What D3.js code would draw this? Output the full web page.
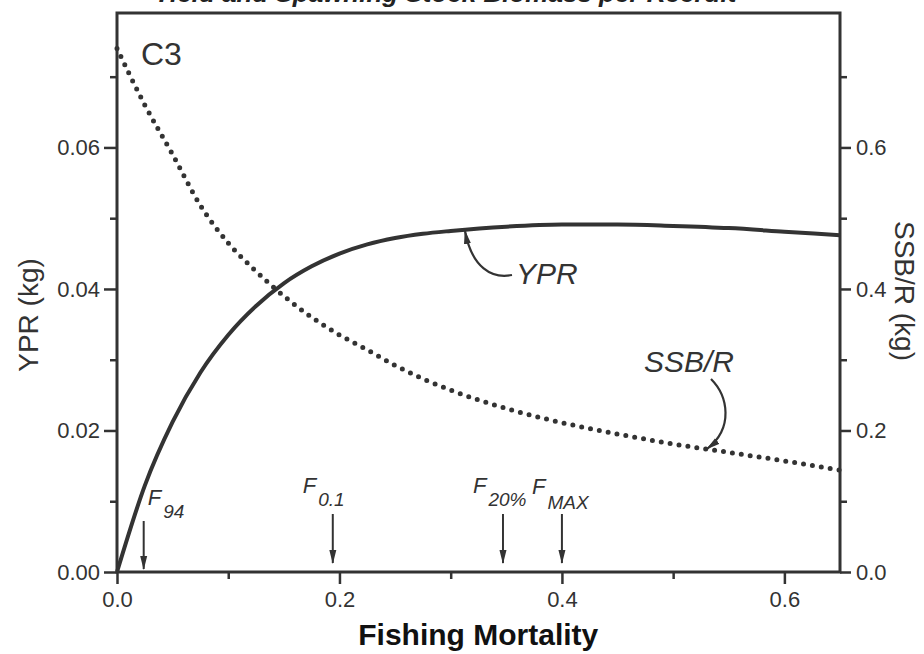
<!DOCTYPE html>
<html>
<head>
<meta charset="utf-8">
<script src="https://cdn.jsdelivr.net/npm/d3@7"></script>
<style>
  body { margin: 0; background: #fff; }
  svg { display: block; }
  text { font-family: "Liberation Sans", Arial, sans-serif; fill: #333; }
</style>
</head>
<body>
<svg id="chart" width="924" height="654"></svg>
<script>
// Fishing mortality grid and the two per-recruit curves
const fishingMortality = [0, 0.025, 0.05, 0.075, 0.1, 0.125, 0.15, 0.175, 0.2, 0.225, 0.25, 0.275, 0.3, 0.35, 0.4, 0.45, 0.5, 0.55, 0.6, 0.65];
const yprValues = [0, 0.0122, 0.0212, 0.0282, 0.0335, 0.0376, 0.0408, 0.0432, 0.0450, 0.0463, 0.0472, 0.0478, 0.0482, 0.0488, 0.0491, 0.0491, 0.0489, 0.0486, 0.0481, 0.0476];
const ssbValues = [0.74, 0.66, 0.59, 0.518, 0.465, 0.425, 0.39, 0.36, 0.335, 0.314, 0.292, 0.273, 0.257, 0.231, 0.211, 0.195, 0.181, 0.169, 0.157, 0.144];

// Reference points marked with arrows
const refNames = ["94", "0.1", "20%", "MAX"];
const refF = [0.024, 0.194, 0.347, 0.400];

// Tick values
const xMajor = [0, 0.2, 0.4, 0.6];
const xMinor = [0.1, 0.3, 0.5];
const yprMajor = [0, 0.02, 0.04, 0.06];
const yprMinor = [0.01, 0.03, 0.05, 0.07];
const ssbMajor = [0, 0.2, 0.4, 0.6];
const ssbMinor = [0.1, 0.3, 0.5, 0.7];

const plotLeft = 117, plotRight = 840, plotTop = 13, plotBottom = 572;
const ink = "#333";

const svg = d3.select("#chart");

// scales
const x = d3.scaleLinear().domain([0, 0.65]).range([plotLeft, plotRight]);
const yLeft = d3.scaleLinear().domain([0, 0.079]).range([plotBottom, plotTop]);
const yRight = d3.scaleLinear().domain([0, 0.79]).range([plotBottom, plotTop]);

// arrow heads
const defs = svg.append("defs");
defs.append("marker")
    .attr("id", "head")
    .attr("viewBox", "0 0 14 8")
    .attr("refX", 13).attr("refY", 4)
    .attr("markerWidth", 14).attr("markerHeight", 8)
    .attr("markerUnits", "userSpaceOnUse")
    .attr("orient", "auto")
    .append("path")
    .attr("d", "M0,0.5 L14,4 L0,7.5 Z")
    .attr("fill", ink);

// title, mostly cut off at the top of the scan
svg.append("text")
    .attr("x", 445).attr("y", 2)
    .attr("text-anchor", "middle")
    .style("font-size", "26px")
    .style("font-weight", "bold")
    .style("font-style", "italic")
    .style("fill", "#222")
    .text("Yield and Spawning Stock Biomass per Recruit");

// ----- axes -----
function styleAxis(g) {
    g.select(".domain").remove();
    g.selectAll(".tick line").attr("stroke", ink).attr("stroke-width", 2.5);
    g.selectAll(".tick text").style("font-size", "22px").attr("fill", ink);
}

svg.append("g")
    .attr("transform", "translate(" + plotLeft + ",0)")
    .call(d3.axisLeft(yLeft).tickValues(yprMajor).tickFormat(d3.format(".2f")).tickSize(13).tickPadding(4))
    .call(styleAxis);
svg.append("g")
    .attr("transform", "translate(" + plotLeft + ",0)")
    .call(d3.axisLeft(yLeft).tickValues(yprMinor).tickFormat("").tickSize(7))
    .call(styleAxis);

svg.append("g")
    .attr("transform", "translate(" + plotRight + ",0)")
    .call(d3.axisRight(yRight).tickValues(ssbMajor).tickFormat(d3.format(".1f")).tickSize(11).tickPadding(5))
    .call(styleAxis);
svg.append("g")
    .attr("transform", "translate(" + plotRight + ",0)")
    .call(d3.axisRight(yRight).tickValues(ssbMinor).tickFormat("").tickSize(7))
    .call(styleAxis);

svg.append("g")
    .attr("transform", "translate(0," + plotBottom + ")")
    .call(d3.axisBottom(x).tickValues(xMajor).tickFormat(d3.format(".1f")).tickSize(12).tickPadding(7))
    .call(styleAxis);
svg.append("g")
    .attr("transform", "translate(0," + plotBottom + ")")
    .call(d3.axisBottom(x).tickValues(xMinor).tickFormat("").tickSize(7))
    .call(styleAxis);

// frame
svg.append("rect")
    .attr("x", plotLeft).attr("y", plotTop)
    .attr("width", plotRight - plotLeft).attr("height", plotBottom - plotTop)
    .attr("fill", "none")
    .attr("stroke", ink)
    .attr("stroke-width", 3);

// axis titles
svg.append("text")
    .attr("transform", "translate(" + x(0.3248) + ",645)")
    .attr("text-anchor", "middle")
    .style("font-size", "30px")
    .style("font-weight", "bold")
    .style("fill", "#111")
    .text("Fishing Mortality");

svg.append("text")
    .attr("transform", "translate(28,315) rotate(-90)")
    .attr("text-anchor", "middle")
    .attr("dominant-baseline", "central")
    .style("font-size", "28px")
    .text("YPR (kg)");

svg.append("text")
    .attr("transform", "translate(904,291) rotate(90)")
    .attr("text-anchor", "middle")
    .attr("dominant-baseline", "central")
    .style("font-size", "28px")
    .text("SSB/R (kg)");

svg.append("text")
    .attr("x", 141).attr("y", 65)
    .style("font-size", "32px")
    .text("C3");

// ----- curves -----
const yprLine = d3.line()
    .x((d, i) => x(fishingMortality[i]))
    .y(d => yLeft(d))
    .curve(d3.curveMonotoneX);

const ssbLine = d3.line()
    .x((d, i) => x(fishingMortality[i]))
    .y(d => yRight(d))
    .curve(d3.curveMonotoneX);

svg.append("path")
    .datum(ssbValues)
    .attr("d", ssbLine)
    .attr("fill", "none")
    .attr("stroke", ink)
    .attr("stroke-width", 5)
    .attr("stroke-linecap", "round")
    .attr("stroke-dasharray", "0 9");

svg.append("path")
    .datum(yprValues)
    .attr("d", yprLine)
    .attr("fill", "none")
    .attr("stroke", ink)
    .attr("stroke-width", 4)
    .attr("stroke-linejoin", "round");

// ----- curve labels with hooked arrows -----
svg.append("path")
    .attr("d", "M512,275 C492,279 472,268 465,231")
    .attr("fill", "none")
    .attr("stroke", ink)
    .attr("stroke-width", 2.2)
    .attr("marker-end", "url(#head)");
svg.append("text")
    .attr("x", 516).attr("y", 284)
    .style("font-size", "30px")
    .style("font-style", "italic")
    .text("YPR");

svg.append("path")
    .attr("d", "M711,379 C728,396 734,428 707,449")
    .attr("fill", "none")
    .attr("stroke", ink)
    .attr("stroke-width", 2.2)
    .attr("marker-end", "url(#head)");
svg.append("text")
    .attr("x", 644).attr("y", 372)
    .style("font-size", "30px")
    .style("font-style", "italic")
    .text("SSB/R");

// ----- reference point arrows -----
const refGroup = svg.selectAll(".ref")
    .data(refF)
    .enter().append("g")
    .attr("class", "ref");

refGroup.append("line")
    .attr("x1", d => x(d)).attr("x2", d => x(d))
    .attr("y1", (d, i) => i === 0 ? 521 : 514)
    .attr("y2", (d, i) => i === 0 ? 569 : 563)
    .attr("stroke", ink)
    .attr("stroke-width", 2)
    .attr("marker-end", "url(#head)");

const refLabel = refGroup.append("text")
    .attr("x", (d, i) => i === 0 ? x(d) + 4 : x(d) - 30)
    .attr("y", (d, i) => i === 0 ? 505 : (i === 3 ? 494 : 493))
    .style("font-style", "italic")
    .style("font-size", "22px");
refLabel.append("tspan").text("F");
refLabel.append("tspan")
    .attr("dx", 2)
    .attr("dy", (d, i) => i === 3 ? 15 : 13)
    .style("font-size", "19px")
    .text((d, i) => refNames[i]);
</script>
</body>
</html>
